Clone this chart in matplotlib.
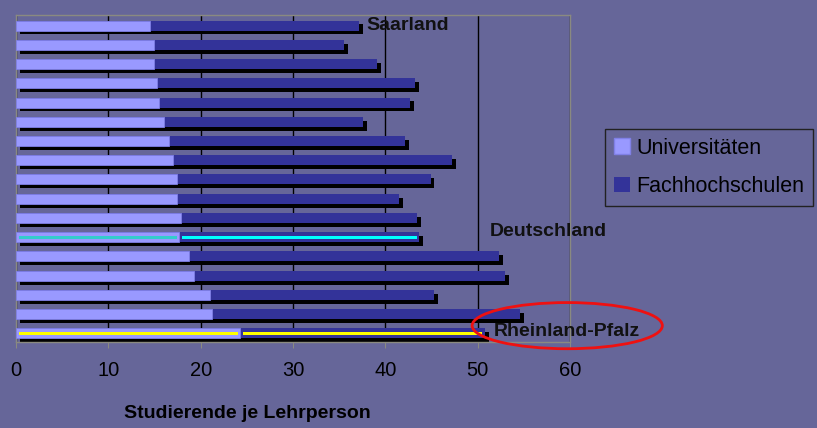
"""Studierende je Lehrperson: Universitäten vs. Fachhochschulen nach Ländern."""

import matplotlib

matplotlib.use("Agg")
import matplotlib.pyplot as plt  # noqa: E402
import matplotlib.patheffects as pe  # noqa: E402
from matplotlib.patches import Ellipse, Patch  # noqa: E402

plt.rcParams["font.family"] = ["Liberation Sans", "DejaVu Sans"]

# values, top row first
uni = [14.5, 14.9, 14.9, 15.3, 15.5, 16.0, 16.6, 17.0, 17.4, 17.4, 17.9,
       17.7, 18.7, 19.3, 21.0, 21.2, 24.3]
fh = [37.2, 35.5, 39.1, 43.2, 42.7, 37.6, 42.1, 47.2, 44.9, 41.5, 43.4,
      43.7, 52.3, 53.0, 45.3, 54.6, 50.8]
series = ["Universitäten", "Fachhochschulen"]
xticks = [0, 10, 20, 30, 40, 50, 60]
xlabel = "Studierende je Lehrperson"
# highlighted rows: index -> (uni stripe colour, fh stripe colour)
highlight = {11: ("#33CCCC", "#00FFFF"), 16: ("#FFFF00", "#FFFF00")}

BG = "#666699"
C_UNI = "#9999FF"
C_FH = "#333399"
GREY = "#8a8a80"

fig = plt.figure(figsize=(8.17, 4.28), dpi=100, facecolor=BG)
ax = fig.add_axes([16 / 817, 86 / 428, 554 / 817, 327 / 428], facecolor=BG)

ypos = list(range(len(uni)))
h = 0.52
fh_bars = ax.barh(ypos, fh, height=h, color=C_FH, zorder=2)
for b in fh_bars:
    b.set_path_effects([pe.SimplePatchShadow(offset=(2.8, -2.8), shadow_rgbFace="black", alpha=1.0),
                        pe.Normal()])

inset = 0.3
for i, (cu, cf) in highlight.items():
    ax.barh(i, fh[i] - uni[i] - 2 * inset, left=uni[i] + inset, height=0.16, color=cf, zorder=3)

ax.barh(ypos, uni, height=h, color=C_UNI, edgecolor="#8080E6", linewidth=0.6, zorder=4)
for i, (cu, cf) in highlight.items():
    ax.barh(i, uni[i] - 2 * inset, left=inset, height=0.16, color=cu, zorder=5)

ax.set_xlim(0, 60)
ax.set_ylim(len(uni) - 0.55, -0.55)
ax.set_xticks(xticks)
ax.set_yticks([])
ax.grid(axis="x", color="black", lw=1)
ax.set_axisbelow(True)
for s in ax.spines.values():
    s.set_color(GREY)
    s.set_linewidth(1)
ax.tick_params(axis="x", colors=GREY, labelcolor="black", labelsize=14.5, length=4, pad=10)

fw = dict(weight="bold", fontsize=14, color="#111111")
ax.text(38.0, 0, "Saarland", va="center", ha="left", **fw)
ax.text(51.3, 10.7, "Deutschland", va="center", ha="left", **fw)
ax.text(51.7, 15.9, "Rheinland-Pfalz", va="center", ha="left", **fw)
ax.add_patch(Ellipse((59.7, 15.6), 20.6, 2.4, fill=False, edgecolor="#ee1111", lw=2,
                     clip_on=False, zorder=6))

fig.text(247 / 817, 1 - 413 / 428, xlabel, ha="center", va="center", weight="bold", fontsize=14)

handles = [Patch(facecolor=C_UNI, edgecolor="#8080E6"), Patch(facecolor=C_FH)]
leg = fig.legend(handles, series, loc="center", bbox_to_anchor=(0.868, 0.609),
                 fontsize=15.5, handlelength=0.75, handleheight=0.75, handletextpad=0.3,
                 labelspacing=0.8, borderpad=0.4, borderaxespad=0, fancybox=False,
                 facecolor=BG, edgecolor="#222222", framealpha=1)
leg.get_frame().set_linewidth(1)

fig.savefig("out.png", dpi=100, facecolor=BG)
